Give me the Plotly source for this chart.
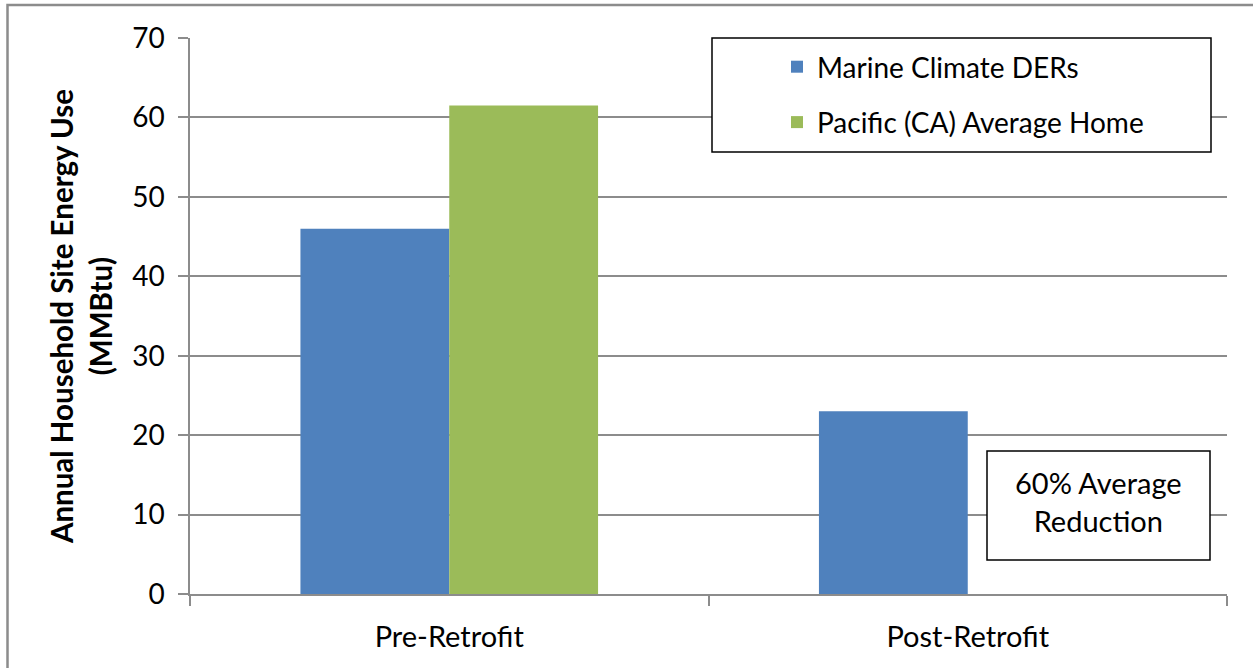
import plotly.graph_objects as go

categories = ["Pre-Retrofit", "Post-Retrofit"]
marine_der = [46, 23]
pacific_avg = [61.5, None]
y_ticks = [0, 10, 20, 30, 40, 50, 60, 70]

FONT = "Lato"
GRID = "#8c8c8c"

fig = go.Figure()
fig.add_trace(go.Bar(name="Marine Climate DERs", x=categories, y=marine_der,
                     marker=dict(color="#4f81bd", line=dict(width=0)),
                     legendgroup="a"))
fig.add_trace(go.Bar(name="Pacific (CA) Average Home", x=categories, y=pacific_avg,
                     marker=dict(color="#9bbb59", line=dict(width=0)),
                     legendgroup="b"))

W, H = 1253, 668
L, R, T, B = 190, 26, 38, 74
pw = W - L - R
ph = H - T - B

def px(x):
    return (x - L) / pw

def py(y):
    return (H - B - y) / ph

fig.update_layout(
    width=W, height=H,
    margin=dict(l=L, r=R, t=T, b=B, autoexpand=False),
    paper_bgcolor="white", plot_bgcolor="white",
    barmode="group", bargap=0.426, bargroupgap=0,
    font=dict(family=FONT, size=28, color="black"),
    showlegend=True,
    legend=dict(x=px(777), y=py(42), xanchor="left", yanchor="top",
                bgcolor="rgba(0,0,0,0)", borderwidth=0,
                font=dict(family=FONT, size=28, color="black"),
                tracegroupgap=16, traceorder="grouped"),
    xaxis=dict(type="category", tickson="boundaries", ticks="outside",
               ticklen=10, tickcolor=GRID, tickwidth=1.5,
               showline=True, linecolor=GRID, linewidth=1.5,
               showgrid=False, tickfont=dict(family=FONT, size=29),
               ticklabelstandoff=16),
    yaxis=dict(range=[0, 70], tickvals=y_ticks, ticks="outside", ticklen=10,
               tickcolor=GRID, tickwidth=1.5, showline=True, linecolor=GRID,
               linewidth=1.5, showgrid=True, gridcolor=GRID, gridwidth=1.5,
               zeroline=False, tickfont=dict(family=FONT, size=28),
               ticklabelstandoff=8,
               title=dict(text="Annual Household Site Energy Use<br>(MMBtu)",
                          font=dict(family=FONT, size=29.5, weight="bold"),
                          standoff=11)),
)

# legend frame
fig.add_shape(type="rect", xref="paper", yref="paper",
              x0=px(712), x1=px(1211), y0=py(152), y1=py(38),
              line=dict(color="black", width=1.5), fillcolor="white", layer="above")
# outer chart border
fig.add_shape(type="rect", xref="paper", yref="paper",
              x0=px(7.5), x1=px(1260), y0=py(680), y1=py(5),
              line=dict(color=GRID, width=2.5), fillcolor="rgba(0,0,0,0)", layer="above")
# text box frame
fig.add_shape(type="rect", xref="paper", yref="paper",
              x0=px(987), x1=px(1210), y0=py(560), y1=py(451),
              line=dict(color="black", width=1.5), fillcolor="white", layer="above")

fig.add_annotation(xref="paper", yref="paper", x=px(1098.5), y=py(501),
                   xanchor="center", yanchor="middle",
                   text="60% Average<br>Reduction", showarrow=False,
                   font=dict(family=FONT, size=29, color="black"),
                   align="center")

fig.write_html("out.html", config={"displayModeBar": False},
               post_script="document.body.style.margin='0';document.body.style.overflow='hidden';")
